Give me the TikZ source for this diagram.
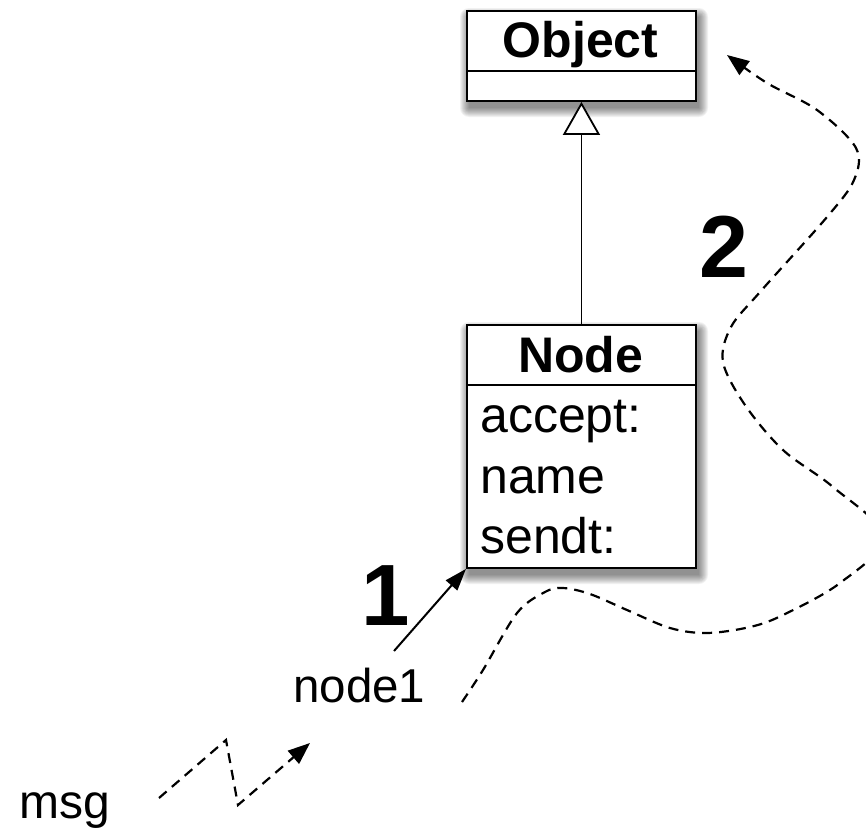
\documentclass[tikz,border=0pt]{standalone}
\usepackage{fontspec}
\setmainfont{Liberation Sans}
\usetikzlibrary{arrows.meta}
\begin{document}
\begin{tikzpicture}[x=1pt,y=-1pt,
  umlbox/.style={draw, line width=1.9pt, fill=white, inner sep=0pt, anchor=north west, minimum width=229pt},
  sepline/.style={line width=1.9pt},
  boxtitle/.style={anchor=base, inner sep=0pt, font=\fontsize{50}{60}\selectfont\bfseries},
  attr/.style={anchor=base west, inner sep=0pt, font=\fontsize{50}{60}\selectfont},
  lbl/.style={anchor=base west, inner sep=0pt, font=\fontsize{48}{58}\selectfont},
  bignum/.style={anchor=base, inner sep=0pt, font=\fontsize{88}{100}\selectfont\bfseries},
  msgline/.style={line width=2.2pt, dash pattern=on 10pt off 7pt, -{Triangle[length=22pt,width=17pt]}},
  callline/.style={line width=2pt, -{Triangle[length=22pt,width=15pt]}},
  inherit/.style={line width=1.8pt, -{Triangle[open,length=33pt,width=37pt,fill=white]}}
]
\useasboundingbox (0,0) rectangle (866,835);
% soft shadows
\foreach \r in {0,...,9}{
  \fill[black, opacity=0.055, rounded corners=\r pt] (466+3-\r,10+7-\r) rectangle (695+4+\r,100+8+\r);
  \fill[black, opacity=0.055, rounded corners=\r pt] (466+3-\r,324+7-\r) rectangle (695+4+\r,567+8+\r);
}
% Object class
\node[umlbox, minimum height=90pt] (obj) at (466,10) {};
\draw[sepline] (466,71) -- (695,71);
\node[boxtitle] (objname) at (580.5,57) {Object};
% Node class
\node[umlbox, minimum height=243pt] (nodebox) at (466,324) {};
\draw[sepline] (466,385) -- (695,385);
\node[boxtitle] (nodename) at (580.5,372) {Node};
\node[attr] (accept) at (480,432) {accept:};
\node[attr] (name) at (480,493) {name};
\node[attr] (sendt) at (480,553) {sendt:};
% inheritance
\draw[inherit] (nodebox.north) -- (obj.south);
% labels
\node[lbl, font=\fontsize{47.5}{58}\selectfont] (node1) at (293,702) {node1};
\node[lbl] (msg) at (19,818) {msg};
\node[bignum] (two) at (724,277) {2};
\node[bignum, font=\fontsize{87}{100}\selectfont\bfseries] (one) at (386,625) {1};
% call arrow
\coordinate (c1) at (394,651);
\draw[callline] (c1) -- (nodebox.south west);
% zigzag message
\coordinate (z0) at (159,798);
\coordinate (z1) at (226,740);
\coordinate (z2) at (238,805);
\coordinate (z3) at (310,743);
\draw[msgline] (z0) -- (z1) -- (z2) -- (z3);
% big dashed curve
\draw[msgline] plot[smooth, tension=0.55] coordinates {(462,702) (483,670) (517,613) (545,592) (563,588) (590,594) (627,610) (670,628) (707,633) (750,627) (783,615) (840,583) (884,537) (833,487) (783,450) (745,405) (723,362) (731,327) (760,292) (827,217) (854,180) (856,148) (817,110) (767,83) (727,55)};
\end{tikzpicture}
\end{document}
